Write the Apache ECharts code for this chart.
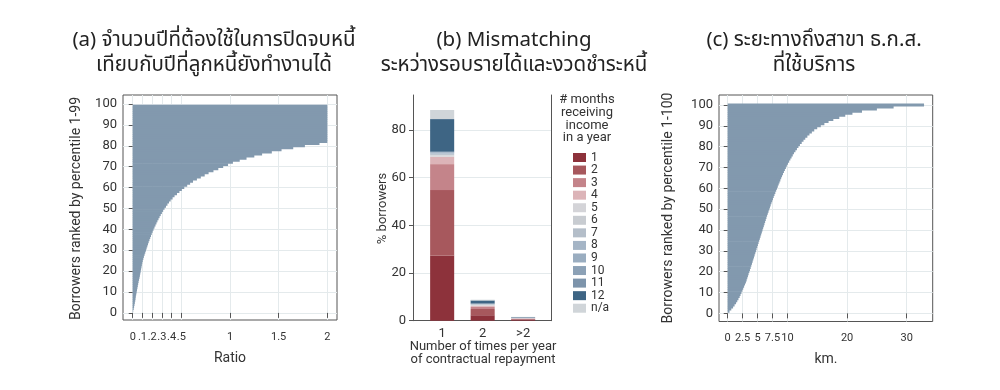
<!DOCTYPE html>
<html><head><meta charset="utf-8">
<script src="https://cdn.jsdelivr.net/npm/echarts@6/dist/echarts.min.js"></script>
<style>html,body{margin:0;padding:0;background:#fff}#c{width:1000px;height:390px}</style>
</head><body><div id="c"></div>
<script>
// ---------- Panel (a): ratio, percentiles 1-99 ----------
const ratioValues = [
  0.005,0.01,0.014,0.018,0.022,0.026,0.029,0.032,0.036,0.04,
  0.044,0.048,0.052,0.056,0.06,0.065,0.07,0.074,0.078,0.082,
  0.086,0.09,0.094,0.098,0.103,0.109,0.115,0.122,0.129,0.136,
  0.143,0.15,0.157,0.164,0.172,0.18,0.188,0.196,0.205,0.214,
  0.224,0.234,0.244,0.254,0.265,0.276,0.288,0.3,0.313,0.327,
  0.342,0.357,0.373,0.39,0.41,0.43,0.455,0.48,0.505,0.53,
  0.56,0.59,0.62,0.66,0.70,0.74,0.78,0.83,0.88,0.93,
  0.98,1.03,1.10,1.17,1.25,1.33,1.43,1.53,1.65,1.77,1.92,
  2,2,2,2,2,2,2,2,2,2,2,2,2,2,2,2,2,2
];
const ratioTicks = [0,0.1,0.2,0.3,0.4,0.5,1,1.5,2];
const ratioTickLabels = ['0','.1','.2','.3','.4','.5','1','1.5','2'];
const pctTicks = [0,10,20,30,40,50,60,70,80,90,100];

// ---------- Panel (b): repayment frequency vs income months ----------
const repayCategories = ['1','2','>2'];
const incomeMonths = ['1','2','3','4','5','6','7','8','9','10','11','12','n/a'];
const m1  = [27.4, 2.3, 0.4];
const m2  = [27.4, 2.6, 0.3];
const m3  = [10.9, 0.9, 0.15];
const m4  = [3.1, 0.5, 0.1];
const m5  = [0.5, 0.2, 0.05];
const m6  = [0.3, 0.15, 0.05];
const m7  = [0.4, 0.15, 0.05];
const m8  = [0.2, 0.1, 0.05];
const m9  = [0.3, 0.1, 0.05];
const m10 = [0.2, 0.1, 0.05];
const m11 = [0.2, 0.1, 0.05];
const m12 = [13.7, 1.3, 0.2];
const mNA = [3.8, 0.3, 0.1];
const shareTicks = [0,20,40,60,80];

// ---------- Panel (c): km to branch, percentiles 1-100 ----------
const kmValues = [
  0.3,0.6,0.9,1.15,1.4,1.6,1.8,2.0,2.15,2.3,
  2.45,2.6,2.75,2.9,3.05,3.17,3.28,3.39,3.5,3.62,
  3.73,3.85,3.96,4.07,4.18,4.29,4.4,4.51,4.62,4.73,
  4.84,4.95,5.06,5.17,5.28,5.39,5.5,5.61,5.72,5.83,
  5.94,6.05,6.16,6.27,6.38,6.49,6.6,6.72,6.84,6.96,
  7.08,7.2,7.32,7.45,7.58,7.71,7.84,7.98,8.12,8.26,
  8.4,8.54,8.68,8.82,8.96,9.1,9.26,9.42,9.58,9.75,
  9.92,10.1,10.3,10.5,10.7,10.9,11.1,11.35,11.6,11.85,
  12.1,12.4,12.7,13.0,13.35,13.7,14.1,14.5,15.0,15.6,
  16.2,16.9,17.7,18.7,19.7,20.9,22.5,25.0,27.8,32.9
];
const kmTicks = [0,2.5,5,7.5,10,20,30];
const kmTickLabels = ['0','2.5','5','7.5','10','20','30'];

// ---------- styling ----------
const NUMFONT = 'Roboto, "DejaVu Sans", sans-serif';
const TXTFONT = '"Noto Sans Thai", "Noto Sans", "DejaVu Sans", sans-serif';
const FRAME = '#555';
const GRIDC = '#e4eaec';
const BARC = '#8299ae';
const monthSeries = [m1,m2,m3,m4,m5,m6,m7,m8,m9,m10,m11,m12,mNA];
const monthColors = ['#8d323b','#a7585d','#c4848a','#dcb4b8','#d4d4d8','#c8ccd1','#b4bec9','#a5b5c6','#9aadc0','#8ca1b6','#7d94ab','#3e6584','#d0d5d9'];

const chart = echarts.init(document.getElementById('c'), null, {renderer:'canvas'});

function hbarRender(values){
  return function(params, api){
    const p = api.value(0), v = api.value(1);
    const a = api.coord([0, p - 0.5]);
    const b = api.coord([v, p + 0.5]);
    const h = a[1] - b[1];
    return {type:'rect', shape:{x:a[0], y:b[1] - 0.35, width:b[0]-a[0], height:h + 0.7}, style:{fill:BARC}};
  };
}

const valueAxisCommon = {
  axisLine:{show:false},
  axisTick:{show:true, length:5, lineStyle:{color:FRAME}},
  splitLine:{show:true, lineStyle:{color:GRIDC, width:1}}
};

const series = [];
series.push({
  type:'custom', xAxisIndex:0, yAxisIndex:0, clip:true,
  data: ratioValues.map((v,i)=>[i+1, v]),
  encode:{x:1, y:0},
  renderItem: hbarRender(ratioValues), z:3, silent:true
});
series.push({
  type:'custom', xAxisIndex:2, yAxisIndex:3, clip:true,
  data: kmValues.map((v,i)=>[i+1, v]),
  encode:{x:1, y:0},
  renderItem: hbarRender(kmValues), z:3, silent:true
});
monthSeries.forEach((arr, k)=>{
  series.push({
    type:'custom', name: incomeMonths[k], xAxisIndex:1, yAxisIndex:1,
    itemStyle:{color: monthColors[k]},
    data: arr.map((v,i)=>[i+1, v]),
    encode:{x:0, y:1},
    z:3, silent:true,
    renderItem: function(params, api){
      const x = api.value(0), v = api.value(1);
      let base = 0;
      for (let j=0;j<k;j++) base += monthSeries[j][x-1];
      const a = api.coord([x, base]);
      const b = api.coord([x, base + v]);
      const w = api.size([0.594, 0])[0];
      return {type:'rect', shape:{x:a[0]-w/2, y:b[1], width:w, height:a[1]-b[1]}, style:{fill: monthColors[k]}};
    }
  });
});

const option = {
  backgroundColor:'#fff',
  animation:false,
  grid:[
    {left:123, top:95, width:214, height:225, show:true, borderColor:FRAME, borderWidth:1, backgroundColor:'transparent', outerBoundsMode:'none'},
    {left:413, top:95, width:138.5, height:225.7, show:false, outerBoundsMode:'none'},
    {left:719, top:95, width:213.7, height:226.5, show:true, borderColor:FRAME, borderWidth:1, backgroundColor:'transparent', outerBoundsMode:'none'}
  ],
  xAxis:[
    Object.assign({}, valueAxisCommon, {
      type:'value', gridIndex:0, min:-0.1, max:2.1,
      axisTick:{show:true, length:5, lineStyle:{color:FRAME}, customValues: ratioTicks},
      axisLabel:{customValues: ratioTicks, margin:12, fontSize:11, fontFamily:NUMFONT, color:'#333',
        formatter:(v)=>{const i = ratioTicks.findIndex(t=>Math.abs(t-v)<1e-9); return i>=0?ratioTickLabels[i]:'';}}
    }),
    {
      type:'value', gridIndex:1, min:0.28, max:3.7,
      axisLine:{show:true, lineStyle:{color:FRAME, width:1}},
      axisTick:{show:false, customValues:[1,2,3]},
      splitLine:{show:false},
      axisLabel:{customValues:[1,2,3], margin:7, fontSize:13, fontFamily:NUMFONT, color:'#333',
        formatter:(v)=>repayCategories[Math.round(v)-1]}
    },
    Object.assign({}, valueAxisCommon, {
      type:'value', gridIndex:2, min:-1.46, max:34.35,
      axisTick:{show:true, length:5, lineStyle:{color:FRAME}, customValues: kmTicks},
      axisLabel:{customValues: kmTicks, margin:11, fontSize:11, fontFamily:NUMFONT, color:'#333',
        formatter:(v)=>{const i = kmTicks.findIndex(t=>Math.abs(t-v)<1e-9); return i>=0?kmTickLabels[i]:'';}}
    })
  ],
  yAxis:[
    Object.assign({}, valueAxisCommon, {
      type:'value', gridIndex:0, min:-3.4, max:104.3,
      axisTick:{show:true, length:4, lineStyle:{color:FRAME}, customValues: pctTicks},
      axisLabel:{customValues: pctTicks, margin:6, fontSize:13, fontFamily:NUMFONT, color:'#333'}
    }),
    {
      type:'value', gridIndex:1, min:0, max:94.7,
      axisLine:{show:true, lineStyle:{color:FRAME, width:1}},
      axisTick:{show:true, length:4, lineStyle:{color:FRAME}, customValues: shareTicks},
      splitLine:{show:true, lineStyle:{color:GRIDC}},
      axisLabel:{customValues: shareTicks, margin:7, fontSize:13, fontFamily:NUMFONT, color:'#333'}
    },
    {
      type:'value', gridIndex:1, min:0, max:94.7, position:'right',
      axisLine:{show:true, lineStyle:{color:FRAME, width:1}},
      axisTick:{show:false}, axisLabel:{show:false}, splitLine:{show:false}
    },
    Object.assign({}, valueAxisCommon, {
      type:'value', gridIndex:2, min:-3.9, max:104.8,
      axisTick:{show:true, length:4, lineStyle:{color:FRAME}, customValues: pctTicks},
      axisLabel:{customValues: pctTicks, margin:6, fontSize:13, fontFamily:NUMFONT, color:'#333'}
    })
  ],
  legend:{
    data: incomeMonths, orient:'vertical', left:568, top:146.5,
    itemWidth:13, itemHeight:9, itemGap:0.56, icon:'rect', selectedMode:false,
    textStyle:{fontSize:12, lineHeight:12, color:'#333', fontFamily:NUMFONT, padding:[0,0,0,0]}
  },
  graphic:[
    {type:'text', x:214, y:54, style:{text:'(a) จำนวนปีที่ต้องใช้ในการปิดจบหนี้\nเทียบกับปีที่ลูกหนี้ยังทำงานได้', textAlign:'center', textVerticalAlign:'middle', font:'20.5px '+TXTFONT, lineHeight:25, fill:'#222'}},
    {type:'text', x:514, y:54, style:{text:'(b) Mismatching\nระหว่างรอบรายได้และงวดชำระหนี้', textAlign:'center', textVerticalAlign:'middle', font:'20.5px '+TXTFONT, lineHeight:25, fill:'#222'}},
    {type:'text', x:814, y:54, style:{text:'(c) ระยะทางถึงสาขา ธ.ก.ส.\nที่ใช้บริการ', textAlign:'center', textVerticalAlign:'middle', font:'20.5px '+TXTFONT, lineHeight:25, fill:'#222'}},
    {type:'text', x:76, y:208.5, rotation:Math.PI/2, style:{text:'Borrowers ranked by percentile 1-99', textAlign:'center', textVerticalAlign:'middle', font:'14px '+NUMFONT, fill:'#333'}},
    {type:'text', x:230, y:358, style:{text:'Ratio', textAlign:'center', textVerticalAlign:'middle', font:'14px '+NUMFONT, fill:'#333'}},
    {type:'text', x:382.5, y:208.5, rotation:Math.PI/2, style:{text:'% borrowers', textAlign:'center', textVerticalAlign:'middle', font:'13px '+NUMFONT, fill:'#333'}},
    {type:'text', x:483, y:353, style:{text:'Number of times per year\nof contractual repayment', textAlign:'center', textVerticalAlign:'middle', font:'13px '+NUMFONT, lineHeight:12.7, fill:'#333'}},
    {type:'text', x:587, y:119, style:{text:'# months\nreceiving\nincome\nin a year', textAlign:'center', textVerticalAlign:'middle', font:'13px '+NUMFONT, lineHeight:12.8, fill:'#333'}},
    {type:'text', x:668, y:208, rotation:Math.PI/2, style:{text:'Borrowers ranked by percentile 1-100', textAlign:'center', textVerticalAlign:'middle', font:'14px '+NUMFONT, fill:'#333'}},
    {type:'text', x:826, y:359, style:{text:'km.', textAlign:'center', textVerticalAlign:'middle', font:'14px '+NUMFONT, fill:'#333'}}
  ],
  series: series
};
chart.setOption(option);
</script></body></html>
